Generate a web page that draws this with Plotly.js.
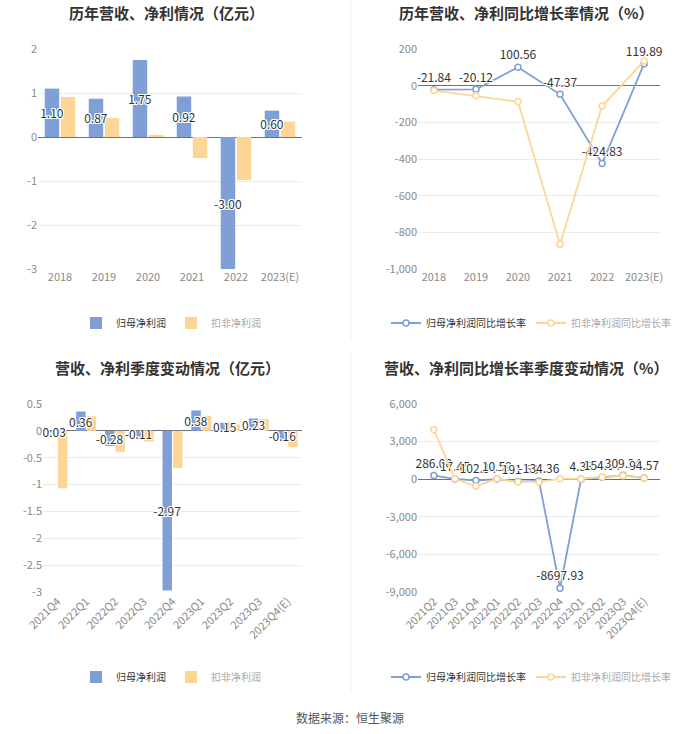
<!DOCTYPE html>
<html>
<head>
<meta charset="utf-8">
<script src="https://cdn.plot.ly/plotly-3.0.1.min.js"></script>
<style>html,body{margin:0;padding:0;background:#fff;}#chart{width:700px;height:734px;}</style>
</head>
<body>
<div id="chart"></div>
<script>
// ---------- data ----------
const years = ['2018', '2019', '2020', '2021', '2022', '2023(E)'];
const annualParent = [1.10, 0.87, 1.75, 0.92, -3.00, 0.60];
const annualDeducted = [0.91, 0.43, 0.05, -0.48, -0.98, 0.35];
const annualParentGrowth = [-21.84, -20.12, 100.56, -47.37, -424.83, 119.89];
const annualDeductedGrowth = [-27, -55, -87, -865, -111, 135];

const quarters = ['2021Q4', '2022Q1', '2022Q2', '2022Q3', '2022Q4', '2023Q1', '2023Q2', '2023Q3', '2023Q4(E)'];
const quarterParent = [-0.03, 0.36, -0.28, -0.11, -2.97, 0.38, 0.15, 0.23, -0.16];
const quarterDeducted = [-1.07, 0.27, -0.39, -0.20, -0.69, 0.28, 0.12, 0.22, -0.30];

const growthQuarters = ['2021Q2', '2021Q3', '2021Q4', '2022Q1', '2022Q2', '2022Q3', '2022Q4', '2023Q1', '2023Q2', '2023Q3', '2023Q4(E)'];
const quarterParentGrowth = [286.00, 17.45, -102.34, 10.59, -191.53, -134.36, -8697.93, 4.38, 154.04, 309.24, 94.57];
const quarterDeductedGrowth = [3950, 30, -560, 30, -220, -220, 30, 20, 180, 280, 100];

const y1Ticks = [2, 1, 0, -1, -2, -3];
const y1Text = ['2', '1', '0', '-1', '-2', '-3'];
const y2Ticks = [200, 0, -200, -400, -600, -800, -1000];
const y2Text = ['200', '0', '-200', '-400', '-600', '-800', '-1,000'];
const y3Ticks = [0.5, 0, -0.5, -1, -1.5, -2, -2.5, -3];
const y3Text = ['0.5', '0', '-0.5', '-1', '-1.5', '-2', '-2.5', '-3'];
const y4Ticks = [6000, 3000, 0, -3000, -6000, -9000];
const y4Text = ['6,000', '3,000', '0', '-3,000', '-6,000', '-9,000'];

const titles = ['历年营收、净利情况（亿元）', '历年营收、净利同比增长率情况（%）', '营收、净利季度变动情况（亿元）', '营收、净利同比增长率季度变动情况（%）'];
const barNames = ['归母净利润', '扣非净利润'];
const lineNames = ['归母净利润同比增长率', '扣非净利润同比增长率'];
const sourceText = '数据来源：恒生聚源';

// ---------- style ----------
const W = 700, H = 734;
const BLUE = '#7f9fd6', ORANGE = '#fdd597';
const FONT = '"Noto Sans CJK SC", "Noto Sans", sans-serif';
const halo = '1px 1px 0 #fff, -1px -1px 0 #fff, 1px -1px 0 #fff, -1px 1px 0 #fff, 0 1px 0 #fff, 0 -1px 0 #fff, 1px 0 0 #fff, -1px 0 0 #fff';
const px = v => v / W;
const py = v => 1 - v / H;
const fmt = v => v.toFixed(2);

const dom = {
  x1: [px(38), px(302)], x2: [px(418), px(660)],
  x3: [px(43), px(302)], x4: [px(418), px(660)],
  yTop: [py(269), py(49)], yBot: [py(592), py(404)]
};
const ranges = { y1: [-3, 2], y2: [-1000, 200], y3: [-3, 0.5], y4: [-9000, 6000] };
const zeroPos = (d, r) => d[0] + (0 - r[0]) / (r[1] - r[0]) * (d[1] - d[0]);

const labelFont = { family: FONT, size: 12, color: '#333', shadow: halo };
const greyName = s => '<span style="color:#aaa">' + s + '</span>';

const traces = [
  { type: 'bar', x: years, y: annualParent, name: barNames[0], marker: { color: BLUE },
    text: annualParent.map(fmt), textposition: 'inside', insidetextanchor: 'middle', constraintext: 'none', textangle: 0,
    textfont: labelFont, xaxis: 'x', yaxis: 'y', legend: 'legend', hoverinfo: 'skip', zorder: 2, cliponaxis: false },
  { type: 'bar', x: years, y: annualDeducted, name: greyName(barNames[1]), marker: { color: ORANGE },
    xaxis: 'x', yaxis: 'y', legend: 'legend', hoverinfo: 'skip', zorder: 1 },

  { type: 'scatter', mode: 'lines+markers+text', x: years, y: annualParentGrowth, name: lineNames[0],
    line: { color: BLUE, width: 1.8 }, marker: { symbol: 'circle', size: 6, color: '#fff', line: { color: BLUE, width: 1.5 } },
    text: annualParentGrowth.map(fmt), textposition: 'top center', textfont: labelFont, cliponaxis: false,
    xaxis: 'x2', yaxis: 'y2', legend: 'legend2', hoverinfo: 'skip' },
  { type: 'scatter', mode: 'lines+markers', x: years, y: annualDeductedGrowth, name: greyName(lineNames[1]),
    line: { color: ORANGE, width: 1.8 }, marker: { symbol: 'circle', size: 6, color: '#fff', line: { color: ORANGE, width: 1.5 } },
    cliponaxis: false, xaxis: 'x2', yaxis: 'y2', legend: 'legend2', hoverinfo: 'skip' },

  { type: 'bar', x: quarters, y: quarterParent, name: barNames[0], marker: { color: BLUE },
    text: quarterParent.map(fmt), textposition: 'inside', insidetextanchor: 'middle', constraintext: 'none', textangle: 0,
    textfont: labelFont, xaxis: 'x3', yaxis: 'y3', legend: 'legend3', hoverinfo: 'skip', zorder: 2, cliponaxis: false },
  { type: 'bar', x: quarters, y: quarterDeducted, name: greyName(barNames[1]), marker: { color: ORANGE },
    xaxis: 'x3', yaxis: 'y3', legend: 'legend3', hoverinfo: 'skip', zorder: 1 },

  { type: 'scatter', mode: 'lines+markers+text', x: growthQuarters, y: quarterParentGrowth, name: lineNames[0],
    line: { color: BLUE, width: 1.8 }, marker: { symbol: 'circle', size: 6, color: '#fff', line: { color: BLUE, width: 1.5 } },
    text: quarterParentGrowth.map(fmt), textposition: 'top center', textfont: labelFont, cliponaxis: false,
    xaxis: 'x4', yaxis: 'y4', legend: 'legend4', hoverinfo: 'skip' },
  { type: 'scatter', mode: 'lines+markers', x: growthQuarters, y: quarterDeductedGrowth, name: greyName(lineNames[1]),
    line: { color: ORANGE, width: 1.8 }, marker: { symbol: 'circle', size: 6, color: '#fff', line: { color: ORANGE, width: 1.5 } },
    cliponaxis: false, xaxis: 'x4', yaxis: 'y4', legend: 'legend4', hoverinfo: 'skip' }
];

const tickFont = { family: FONT, size: 11, color: '#8a8a8a' };
function xAx(domain, angle, anchor) {
  return { domain: domain, anchor: anchor, type: 'category', showgrid: false, zeroline: false, showline: false, ticks: '',
    tickfont: tickFont, tickangle: angle, fixedrange: true };
}
function yAx(domain, range, vals, text, anchor) {
  return { domain: domain, range: range, tickmode: 'array', tickvals: vals, ticktext: text, showgrid: true,
    gridcolor: '#ececec', gridwidth: 1, zeroline: true, zerolinecolor: '#6e7079', zerolinewidth: 1,
    showline: false, ticks: '', tickfont: tickFont, anchor: anchor, fixedrange: true };
}
function tickAx(over, n, pos) {
  const vals = []; for (let i = 0; i < n; i++) vals.push(i);
  return { overlaying: over, anchor: 'free', position: pos, type: 'linear', range: [-0.5, n - 0.5],
    tickmode: 'array', tickvals: vals, ticks: 'outside', ticklen: 4, tickcolor: '#6e7079', tickwidth: 1,
    showticklabels: false, showgrid: false, zeroline: false, showline: false, fixedrange: true };
}
function legendAt(x, y) {
  return { orientation: 'h', x: x, y: y, xanchor: 'center', yanchor: 'middle', font: { family: FONT, size: 10, color: '#333' },
    bgcolor: 'rgba(0,0,0,0)', itemclick: false, itemdoubleclick: false, traceorder: 'normal', itemwidth: 30 };
}
function titleAnn(text, x, y) {
  return { text: '<b>' + text + '</b>', x: px(x), y: py(y), xref: 'paper', yref: 'paper', xanchor: 'center', yanchor: 'middle',
    showarrow: false, font: { family: FONT, size: 15, color: '#333' } };
}

const layout = {
  width: W, height: H, margin: { l: 0, r: 0, t: 0, b: 0 }, paper_bgcolor: '#fff', plot_bgcolor: 'rgba(0,0,0,0)',
  font: { family: FONT }, barmode: 'group', bargap: 0.27, bargroupgap: 0.1,
  xaxis: xAx(dom.x1, 0, 'y'), yaxis: yAx(dom.yTop, ranges.y1, y1Ticks, y1Text, 'x'),
  xaxis2: xAx(dom.x2, 0, 'y2'), yaxis2: yAx(dom.yTop, ranges.y2, y2Ticks, y2Text, 'x2'),
  xaxis3: xAx(dom.x3, -45, 'y3'), yaxis3: yAx(dom.yBot, ranges.y3, y3Ticks, y3Text, 'x3'),
  xaxis4: xAx(dom.x4, -45, 'y4'), yaxis4: yAx(dom.yBot, ranges.y4, y4Ticks, y4Text, 'x4'),
  xaxis5: tickAx('x', years.length, zeroPos(dom.yTop, ranges.y1)),
  xaxis6: tickAx('x2', years.length, zeroPos(dom.yTop, ranges.y2)),
  xaxis7: tickAx('x3', quarters.length, zeroPos(dom.yBot, ranges.y3)),
  xaxis8: tickAx('x4', growthQuarters.length, zeroPos(dom.yBot, ranges.y4)),
  legend: legendAt(px(171), py(323)),
  legend2: legendAt(px(531), py(323)),
  legend3: legendAt(px(171), py(677)),
  legend4: legendAt(px(531), py(677)),
  annotations: [
    titleAnn(titles[0], 166, 13), titleAnn(titles[1], 526, 13),
    titleAnn(titles[2], 167, 367), titleAnn(titles[3], 526, 367),
    { text: sourceText, x: 0.5, y: py(717), xref: 'paper', yref: 'paper', xanchor: 'center', yanchor: 'middle',
      showarrow: false, font: { family: FONT, size: 12, color: '#555' } }
  ],
  shapes: [
    { type: 'line', xref: 'paper', yref: 'paper', x0: px(351), x1: px(351), y0: py(0), y1: py(340), line: { color: '#f0f0f0', width: 1 } },
    { type: 'line', xref: 'paper', yref: 'paper', x0: px(351), x1: px(351), y0: py(352), y1: py(692), line: { color: '#f0f0f0', width: 1 } }
  ]
};

Plotly.newPlot('chart', traces, layout, { staticPlot: true, displayModeBar: false });
</script>
</body>
</html>
